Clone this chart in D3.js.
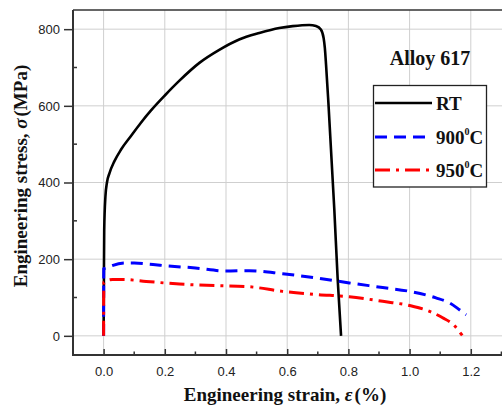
<!DOCTYPE html>
<html>
<head>
<meta charset="utf-8">
<script src="https://cdn.jsdelivr.net/npm/d3@7/dist/d3.min.js"></script>
<style>
  body { margin: 0; background: #fff; }
  svg { display: block; }
</style>
</head>
<body>
<svg id="svg" width="502" height="408"></svg>
<script>
// tensile curves: [strain %, stress MPa]
const rtCurve = [[0,0],[0.001,150],[0.002,277],[0.006,364],[0.011,400],[0.019,424],[0.035,455],
  [0.057,486],[0.09,522],[0.122,556],[0.155,588],[0.2,627],[0.247,665],[0.313,712],[0.378,746],
  [0.443,773],[0.509,790],[0.574,803],[0.618,808],[0.672,811],[0.694,808],[0.71,799],[0.719,777],
  [0.723,751],[0.727,707],[0.735,603],[0.754,329],[0.765,147],[0.776,0]];
const c900Curve = [[0,0],[0.0005,175],[0.004,176],[0.07,190],[0.1,190],[0.15,187],[0.2,183],[0.3,177],
  [0.4,169],[0.476,170],[0.585,162],[0.695,151],[0.803,138],[0.912,126],[1.0,116],[1.086,99],
  [1.13,86],[1.163,68],[1.185,55]];
const c950Curve = [[0,0],[0.0005,140],[0.03,147],[0.062,147],[0.139,142],[0.248,135],[0.368,131],
  [0.476,128],[0.585,116],[0.695,108],[0.803,102],[0.912,90],[1.0,79],[1.065,64],[1.108,47],
  [1.142,30],[1.172,1]];

const seriesNames = ["RT", "900", "950"];
const xTicks = [0, 0.2, 0.4, 0.6, 0.8, 1.0, 1.2];
const xMinor = [0.1, 0.3, 0.5, 0.7, 0.9, 1.1, 1.3];
const yTicks = [0, 200, 400, 600, 800];
const yMinor = [100, 300, 500, 700];

const svg = d3.select("#svg");
const pLeft = 73, pTop = 10, pBottom = 355;

const x = d3.scaleLinear().domain([-0.1, 1.3]).range([pLeft, pLeft + 306 * 1.4]);
const y = d3.scaleLinear().domain([-50, 850]).range([pBottom, pTop]);

// grid
svg.append("g").selectAll("line").data(xTicks).join("line")
  .attr("x1", d => x(d)).attr("x2", d => x(d)).attr("y1", pTop).attr("y2", pBottom)
  .attr("stroke", "#cfcfcf").attr("stroke-width", 1);
svg.append("g").selectAll("line").data(yTicks).join("line")
  .attr("x1", pLeft).attr("x2", 502).attr("y1", d => y(d)).attr("y2", d => y(d))
  .attr("stroke", "#cfcfcf").attr("stroke-width", 1);

// curves
const line = d3.line().x(d => x(d[0])).y(d => y(d[1])).curve(d3.curveMonotoneX);
svg.append("path").attr("d", line(rtCurve)).attr("fill", "none")
  .attr("stroke", "#000").attr("stroke-width", 2.6);
svg.append("path").attr("d", line(c900Curve)).attr("fill", "none")
  .attr("stroke", "#0000ff").attr("stroke-width", 3).attr("stroke-dasharray", "12,7");
svg.append("path").attr("d", line(c950Curve)).attr("fill", "none")
  .attr("stroke", "#ff0000").attr("stroke-width", 3).attr("stroke-dasharray", "15,6,3,6");

// axes
const xAxis = d3.axisBottom(x).tickValues(xTicks).tickFormat(d3.format(".1f")).tickSize(-6).tickPadding(12);
const gx = svg.append("g").attr("transform", `translate(0,${pBottom})`).call(xAxis);
gx.selectAll(".tick line").attr("stroke", "#333").attr("stroke-width", 1.5);
gx.select(".domain").remove();
svg.append("g").attr("transform", `translate(0,${pBottom})`).selectAll("line").data(xMinor).join("line")
  .attr("x1", d => x(d)).attr("x2", d => x(d)).attr("y1", 0).attr("y2", -3.5)
  .attr("stroke", "#333").attr("stroke-width", 1.5);

const yAxis = d3.axisLeft(y).tickValues(yTicks).tickSize(9).tickPadding(4);
const gy = svg.append("g").attr("transform", `translate(${pLeft},0)`).call(yAxis);
gy.selectAll(".tick line").attr("stroke", "#333").attr("stroke-width", 1.5);
gy.select(".domain").remove();
svg.append("g").attr("transform", `translate(${pLeft},0)`).selectAll("line").data(yMinor).join("line")
  .attr("x1", 0).attr("x2", 4).attr("y1", d => y(d)).attr("y2", d => y(d))
  .attr("stroke", "#333").attr("stroke-width", 1.5);

svg.selectAll(".tick text").attr("font-family", "Liberation Sans, Arial, sans-serif")
  .attr("font-size", 13).attr("fill", "#222");

// frame
svg.append("line").attr("x1", pLeft).attr("x2", 502).attr("y1", pBottom).attr("y2", pBottom)
  .attr("stroke", "#333").attr("stroke-width", 2.2);
svg.append("line").attr("x1", pLeft).attr("x2", pLeft).attr("y1", pTop).attr("y2", pBottom + 1)
  .attr("stroke", "#333").attr("stroke-width", 2);
svg.append("line").attr("x1", pLeft).attr("x2", 502).attr("y1", pTop).attr("y2", pTop)
  .attr("stroke", "#333").attr("stroke-width", 1.5);

const serif = "Liberation Serif, Times New Roman, serif";

// axis titles
const xt = svg.append("text").attr("x", 285).attr("y", 401).attr("text-anchor", "middle")
  .attr("font-family", serif).attr("font-weight", "bold").attr("font-size", 19).attr("fill", "#111");
xt.append("tspan").text("Engineering strain, ");
xt.append("tspan").attr("font-style", "italic").text("ε");
xt.append("tspan").attr("dx", 2).text("(%)");

const yt = svg.append("text").attr("transform", "translate(27,176) rotate(-90)").attr("text-anchor", "middle")
  .attr("font-family", serif).attr("font-weight", "bold").attr("font-size", 19).attr("fill", "#111");
yt.append("tspan").text("Engineering stress, ");
yt.append("tspan").attr("font-style", "italic").text("σ");
yt.append("tspan").attr("dx", 2).text("(MPa)");

// title
svg.append("text").attr("x", 430).attr("y", 65).attr("text-anchor", "middle")
  .attr("font-family", serif).attr("font-weight", "bold").attr("font-size", 20).attr("fill", "#111")
  .text("Alloy 617");

// legend
const lg = svg.append("g");
lg.append("rect").attr("x", 373.5).attr("y", 85.5).attr("width", 113).attr("height", 101.5)
  .attr("fill", "#fff").attr("stroke", "#222").attr("stroke-width", 1.3);
const legendRows = [
  { name: seriesNames[0], color: "#000", dash: null, w: 2.6, y: 103 },
  { name: seriesNames[1], color: "#0000ff", dash: "12,7", w: 3, y: 137 },
  { name: seriesNames[2], color: "#ff0000", dash: "15,6,3,6", w: 3, y: 170 }
];
legendRows.forEach(r => {
  lg.append("line").attr("x1", 375).attr("x2", 432).attr("y1", r.y).attr("y2", r.y)
    .attr("stroke", r.color).attr("stroke-width", r.w).attr("stroke-dasharray", r.dash);
  const t = lg.append("text").attr("x", 436).attr("y", r.y + 7)
    .attr("font-family", serif).attr("font-weight", "bold").attr("font-size", 19).attr("fill", "#111");
  t.append("tspan").text(r.name);
  if (r.name !== "RT") {
    t.append("tspan").attr("font-size", 10).attr("dy", -9).text("0");
    t.append("tspan").attr("dy", 9).text("C");
  }
});
</script>
</body>
</html>
